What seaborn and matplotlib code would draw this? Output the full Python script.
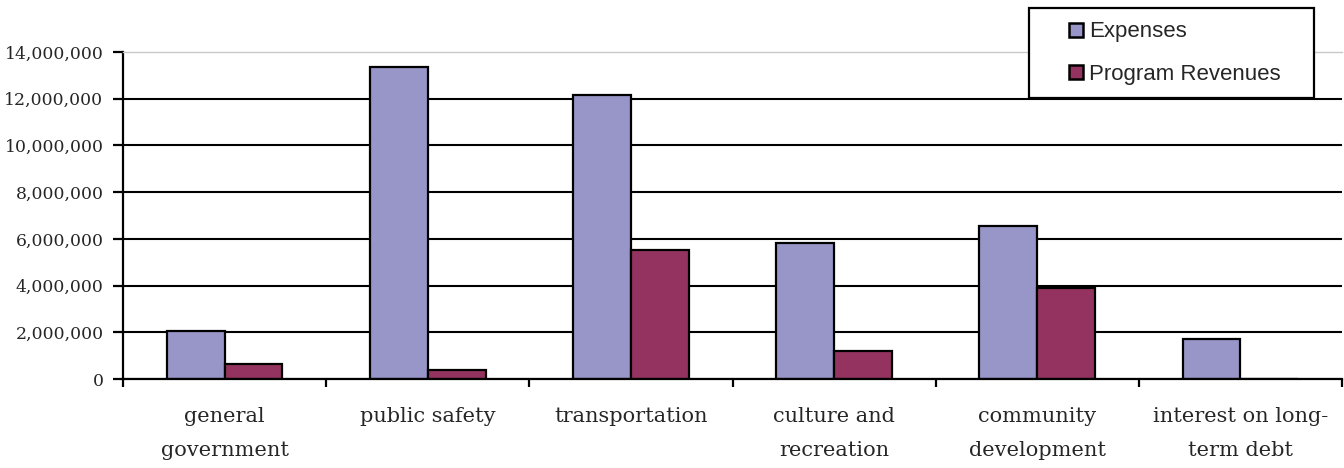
import matplotlib
matplotlib.use("Agg")
import matplotlib.pyplot as plt
import seaborn as sns
import pandas as pd
from matplotlib.ticker import FuncFormatter, FixedLocator
from matplotlib.patches import Rectangle
from matplotlib.legend_handler import HandlerPatch

categories = ["general\ngovernment", "public safety", "transportation",
              "culture and\nrecreation", "community\ndevelopment", "interest on long-\nterm debt"]
expenses = [2050000, 13350000, 12150000, 5820000, 6550000, 1710000]
program_revenues = [640000, 390000, 5520000, 1200000, 3880000, 0]
series_names = ["Expenses", "Program Revenues"]
colors = ["#9896C8", "#953360"]
yticks = [0, 2000000, 4000000, 6000000, 8000000, 10000000, 12000000, 14000000]

df = pd.DataFrame({
    "category": categories * 2,
    "series": [series_names[0]] * len(categories) + [series_names[1]] * len(categories),
    "value": expenses + program_revenues,
})

sns.set_style("white")
fig = plt.figure(figsize=(13.44, 4.68), dpi=100)
ax = fig.add_axes([123 / 1344, 1 - 379 / 468, (1342 - 123) / 1344, (379 - 52) / 468])

sns.barplot(data=df, x="category", y="value", hue="series", order=categories,
            hue_order=series_names, palette=colors, width=0.57, gap=0,
            edgecolor="black", linewidth=1.6, saturation=1, ax=ax, legend=True)

ax.set_xlim(-0.5, len(categories) - 0.5)
ax.set_ylim(0, 14000000)
ax.set_yticks(yticks)
ax.yaxis.set_major_formatter(FuncFormatter(lambda v, p: f"{int(v):,}"))
ax.grid(axis="y", color="black", linewidth=1.5)
ax.set_axisbelow(True)
ax.get_ygridlines()[-1].set_visible(False)

ax.set_xlabel("")
ax.set_ylabel("")
ax.xaxis.set_minor_locator(FixedLocator([i - 0.5 for i in range(len(categories) + 1)]))
ax.tick_params(axis="x", which="major", length=0, pad=20)
ax.tick_params(axis="x", which="minor", length=6, width=1.6, direction="out", color="black", bottom=True)
ax.tick_params(axis="y", which="major", length=7, width=1.6, direction="out", color="black", left=True, pad=7)

for lab in ax.get_xticklabels():
    lab.set_fontfamily("DejaVu Serif")
    lab.set_fontsize(15)
    lab.set_linespacing(2.0)
    lab.set_verticalalignment("top")
for lab in ax.get_yticklabels():
    lab.set_fontfamily("DejaVu Serif")
    lab.set_fontsize(12.4)

for side in ["left", "bottom"]:
    ax.spines[side].set_color("black")
    ax.spines[side].set_linewidth(1.6)
ax.spines["top"].set_color("#c8c8c8")
ax.spines["top"].set_linewidth(1.0)
ax.spines["right"].set_visible(False)


def square_patch(legend, orig_handle, xdescent, ydescent, width, height, fontsize):
    s = 10.0
    return Rectangle((-xdescent + width - s, -ydescent + (height - s) / 2), s, s)


handles, labels = ax.get_legend_handles_labels()
ax.get_legend().remove()
leg = fig.legend(handles, labels, loc="upper left",
                 bbox_to_anchor=(1029 / 1344, 1 - 8 / 468, (1314 - 1029) / 1344, 0.0),
                 bbox_transform=fig.transFigure, borderaxespad=0, mode="expand",
                 frameon=True, fancybox=False, edgecolor="black",
                 prop={"family": "Liberation Sans", "size": 16},
                 handlelength=1.82, handleheight=0.7, handletextpad=0.27,
                 labelspacing=0.97, borderpad=0.6,
                 handler_map={h: HandlerPatch(patch_func=square_patch) for h in handles})
leg.get_frame().set_linewidth(1.6)
leg.get_frame().set_facecolor("white")
leg.get_frame().set_alpha(1)
leg.set_zorder(10)
for h in leg.legend_handles:
    h.set_edgecolor("black")
    h.set_linewidth(1.8)

fig.savefig("out.png", dpi=100)
